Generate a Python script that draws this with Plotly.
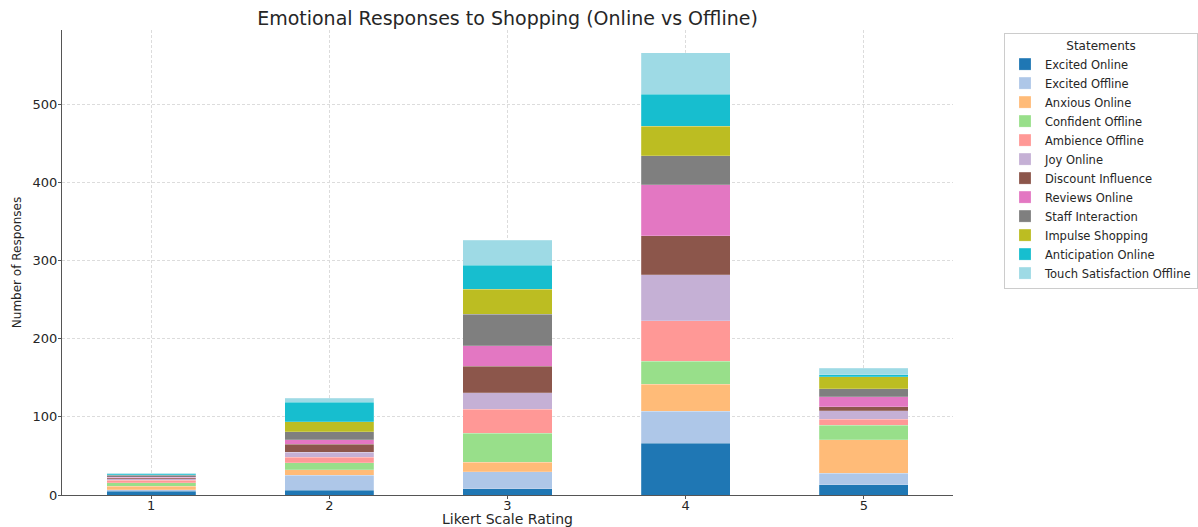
import plotly.graph_objects as go

ratings = [1, 2, 3, 4, 5]
tick_labels = ["1", "2", "3", "4", "5"]

statements = [
    "Excited Online", "Excited Offline", "Anxious Online", "Confident Offline",
    "Ambience Offline", "Joy Online", "Discount Influence", "Reviews Online",
    "Staff Interaction", "Impulse Shopping", "Anticipation Online",
    "Touch Satisfaction Offline",
]

excited_online = [5, 6, 8, 66, 13]
excited_offline = [2, 19, 22, 41, 15]
anxious_online = [4, 7, 12, 35, 43]
confident_offline = [5, 9, 37, 29, 18]
ambience_offline = [3, 7, 31, 52, 8]
joy_online = [2, 7, 21, 59, 11]
discount_influence = [1, 10, 34, 50, 5]
reviews_online = [1, 6, 26, 65, 13]
staff_interaction = [2, 10, 40, 37, 10]
impulse_shopping = [1, 13, 32, 38, 15]
anticipation_online = [1, 25, 31, 41, 3]
touch_satisfaction_offline = [1, 5, 32, 53, 8]

series = [
    excited_online, excited_offline, anxious_online, confident_offline,
    ambience_offline, joy_online, discount_influence, reviews_online,
    staff_interaction, impulse_shopping, anticipation_online,
    touch_satisfaction_offline,
]

colors = ["#1f77b4", "#aec7e8", "#ffbb78", "#98df8a", "#ff9896", "#c5b0d5",
          "#8c564b", "#e377c2", "#7f7f7f", "#bcbd22", "#17becf", "#9edae5"]

fig = go.Figure()
for name, vals, col in zip(statements, series, colors):
    fig.add_trace(go.Bar(
        x=ratings, y=vals, name=name, width=0.5,
        marker=dict(color=col, line=dict(color="rgba(255,255,255,0.4)", width=0.5)),
    ))

font_family = "DejaVu Sans"
fig.update_layout(
    barmode="stack",
    width=1198, height=527,
    paper_bgcolor="white", plot_bgcolor="white",
    font=dict(family=font_family, color="#262626"),
    title=dict(text="Emotional Responses to Shopping (Online vs Offline)",
               x=(62 + 953) / 2 / 1198, xanchor="center", y=0.966, yanchor="middle",
               font=dict(size=19, family=font_family, color="#262626")),
    margin=dict(l=62, r=245, t=30, b=32, autoexpand=False),
    xaxis=dict(
        range=[0.5, 5.5], tickmode="array", tickvals=ratings, ticktext=tick_labels,
        showgrid=True, gridcolor="#dcdcdc", griddash="3px,2px", gridwidth=1,
        showline=True, linecolor="#555555", linewidth=1.2,
        ticks="outside", ticklen=3, tickcolor="#555555",
        tickfont=dict(size=13), ticklabelstandoff=-5,
        title=dict(text="Likert Scale Rating", font=dict(size=14), standoff=2),
        zeroline=False, automargin=False,
    ),
    yaxis=dict(
        range=[0, 595], tickvals=[0, 100, 200, 300, 400, 500],
        showgrid=True, gridcolor="#dcdcdc", griddash="3px,2px", gridwidth=1,
        showline=True, linecolor="#555555", linewidth=1.2,
        ticks="outside", ticklen=3, tickcolor="#555555",
        tickfont=dict(size=13), ticklabelstandoff=-2,
        title=dict(text="Number of Responses", font=dict(size=12), standoff=8),
        zeroline=False, automargin=False,
    ),
    legend=dict(
        title=dict(text="Statements", side="top center", font=dict(size=12)),
        traceorder="normal",
        x=(1004 - 62) / 891, xanchor="left", y=(495 - 33) / 465, yanchor="top",
        bordercolor="#cccccc", borderwidth=1,
        font=dict(size=11.5),
        tracegroupgap=0,
        itemwidth=30,
    ),
)

fig.write_html(
    "out.html",
    config={"displayModeBar": False},
    post_script="document.body.style.margin='0';document.body.style.overflow='hidden';",
)
